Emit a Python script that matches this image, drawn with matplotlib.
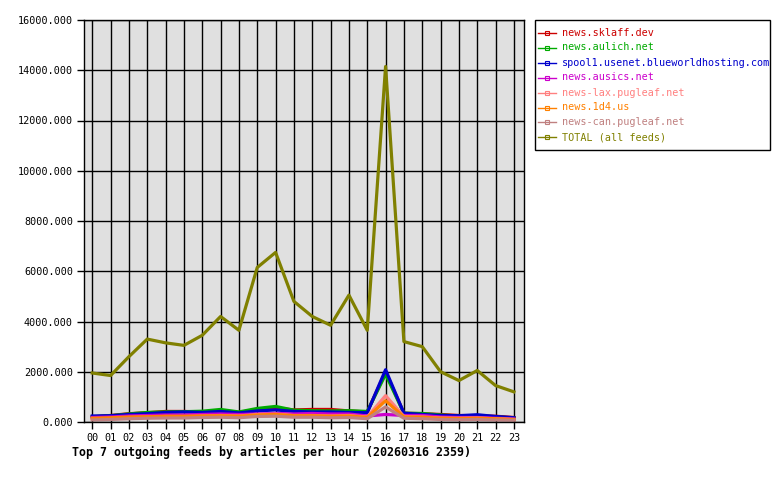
import matplotlib
matplotlib.use("Agg")
import matplotlib.pyplot as plt
from matplotlib.lines import Line2D
from matplotlib.patches import Rectangle
from matplotlib.ticker import FormatStrFormatter

hours = [f"{h:02d}" for h in range(24)]

# articles per hour
sklaff = [200, 260, 330, 370, 420, 420, 400, 420, 380, 500, 560, 480,
          500, 500, 440, 400, 2000, 350, 330, 300, 260, 250, 230, 180]
aulich = [210, 250, 320, 380, 400, 410, 430, 500, 400, 540, 620, 470,
          450, 440, 450, 420, 1900, 350, 340, 280, 240, 240, 200, 160]
blueworld = [240, 250, 300, 330, 380, 400, 380, 420, 360, 440, 480, 420,
             400, 400, 380, 370, 2080, 350, 300, 260, 250, 290, 220, 170]
ausics = [180, 200, 240, 260, 280, 280, 300, 320, 300, 320, 340, 320,
          340, 320, 320, 240, 300, 260, 260, 200, 180, 180, 150, 120]
lax = [120, 140, 180, 200, 220, 220, 240, 260, 240, 300, 320, 260,
       260, 240, 260, 200, 1050, 220, 200, 160, 150, 160, 130, 100]
one_d4 = [150, 170, 200, 210, 230, 230, 240, 250, 230, 280, 300, 250,
          250, 230, 240, 180, 850, 200, 190, 150, 140, 150, 130, 100]
can = [80, 100, 130, 150, 160, 160, 180, 190, 170, 220, 230, 190,
       190, 170, 180, 130, 600, 150, 130, 100, 90, 100, 80, 70]
total = [1950, 1850, 2600, 3300, 3150, 3050, 3450, 4200, 3650, 6150, 6750, 4800,
         4200, 3850, 5050, 3650, 14150, 3200, 3000, 2000, 1650, 2050, 1450, 1200]

series = [
    ("news.sklaff.dev", sklaff, "#cc0000"),
    ("news.aulich.net", aulich, "#00aa00"),
    ("spool1.usenet.blueworldhosting.com", blueworld, "#0000cc"),
    ("news.ausics.net", ausics, "#cc00cc"),
    ("news-lax.pugleaf.net", lax, "#ff8080"),
    ("news.1d4.us", one_d4, "#ff8000"),
    ("news-can.pugleaf.net", can, "#c08080"),
    ("TOTAL (all feeds)", total, "#808000"),
]

mono = "DejaVu Sans Mono"
W, H = 780, 480
fig = plt.figure(figsize=(7.8, 4.8), dpi=100)
ax = fig.add_axes([84 / W, 58 / H, 440 / W, 402 / H])
ax.set_facecolor("#e0e0e0")

x = list(range(24))
for name, vals, col in series:
    ax.plot(x, vals, color=col, lw=2.3)

ax.set_xlim(-0.45, 23.55)
ax.set_ylim(0, 16000)
ax.set_xticks(x)
ax.set_xticklabels(hours)
ax.set_yticks(range(0, 16001, 2000))
ax.yaxis.set_major_formatter(FormatStrFormatter("%.3f"))
ax.grid(True, color="black", lw=1)
ax.set_axisbelow(True)
ax.tick_params(direction="out", length=5, width=1, labelsize=7.3, pad=3)
for lab in ax.get_xticklabels() + ax.get_yticklabels():
    lab.set_family(mono)
for s in ax.spines.values():
    s.set_linewidth(1)

# legend box, drawn by hand to sit where the reference has it
fig.patches.append(Rectangle((535 / W, 1 - 150 / H), 235 / W, 130 / H,
                             transform=fig.transFigure, fill=False,
                             edgecolor="black", lw=1))
for i, (name, vals, col) in enumerate(series):
    yy = 1 - (32.5 + 15 * i) / H
    fig.add_artist(Line2D([538 / W, 556 / W], [yy, yy], color=col, lw=1,
                          transform=fig.transFigure))
    fig.add_artist(Line2D([547 / W], [yy], color=col, marker="s", markersize=3,
                          markerfacecolor="none", markeredgewidth=0.8,
                          transform=fig.transFigure))
    fig.text(562 / W, yy, name, color=col, family=mono, fontsize=7.3,
             va="center", ha="left")

fig.text(72 / W, 1 - 452 / H, "Top 7 outgoing feeds by articles per hour (20260316 2359)",
         family=mono, weight="bold", fontsize=8.4, va="center", ha="left")

fig.savefig("out.png", dpi=100)
